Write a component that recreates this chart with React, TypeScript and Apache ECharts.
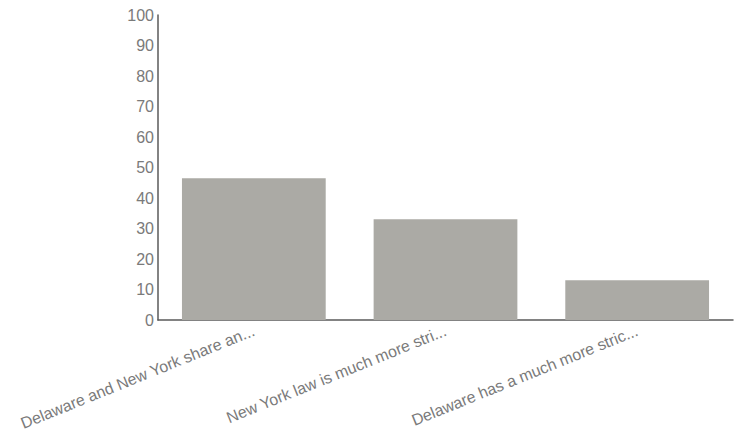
import React, { useEffect, useRef } from "react";
import * as echarts from "echarts";

const categories = [
  "Delaware and New York share an...",
  "New York law is much more stri...",
  "Delaware has a much more stric...",
];
const values = [46.5, 33, 13];
const yMin = 0;
const yMax = 100;
const yInterval = 10;

export default function App() {
  const ref = useRef<HTMLDivElement>(null);
  useEffect(() => {
    if (!ref.current) return;
    const chart = echarts.init(ref.current, null, { renderer: "svg" });
    chart.setOption({
      animation: false,
      backgroundColor: "#ffffff",
      grid: { left: 158, right: 1, top: 15, bottom: 117, containLabel: false },
      xAxis: {
        type: "category",
        data: categories,
        axisLine: { show: true, lineStyle: { color: "#5a5a5a", width: 1.5 } },
        axisTick: { show: false },
        axisLabel: {
          rotate: 22,
          interval: 0,
          margin: 10,
          color: "#7a7a7a",
          fontSize: 16,
          fontFamily: "Liberation Sans, Arial, sans-serif",
        },
      },
      yAxis: {
        type: "value",
        min: yMin,
        max: yMax,
        interval: yInterval,
        splitLine: { show: false },
        axisLine: { show: true, lineStyle: { color: "#5a5a5a", width: 1.5 } },
        axisTick: { show: false },
        axisLabel: {
          margin: 4,
          color: "#7a7a7a",
          fontSize: 16,
          fontFamily: "Liberation Sans, Arial, sans-serif",
        },
      },
      series: [
        {
          type: "bar",
          data: values,
          barCategoryGap: "25%",
          itemStyle: { color: "#abaaa5" },
        },
      ],
    });
    return () => chart.dispose();
  }, []);
  return <div ref={ref} style={{ width: 734, height: 437, position: "absolute", left: 0, top: 0 }} />;
}
